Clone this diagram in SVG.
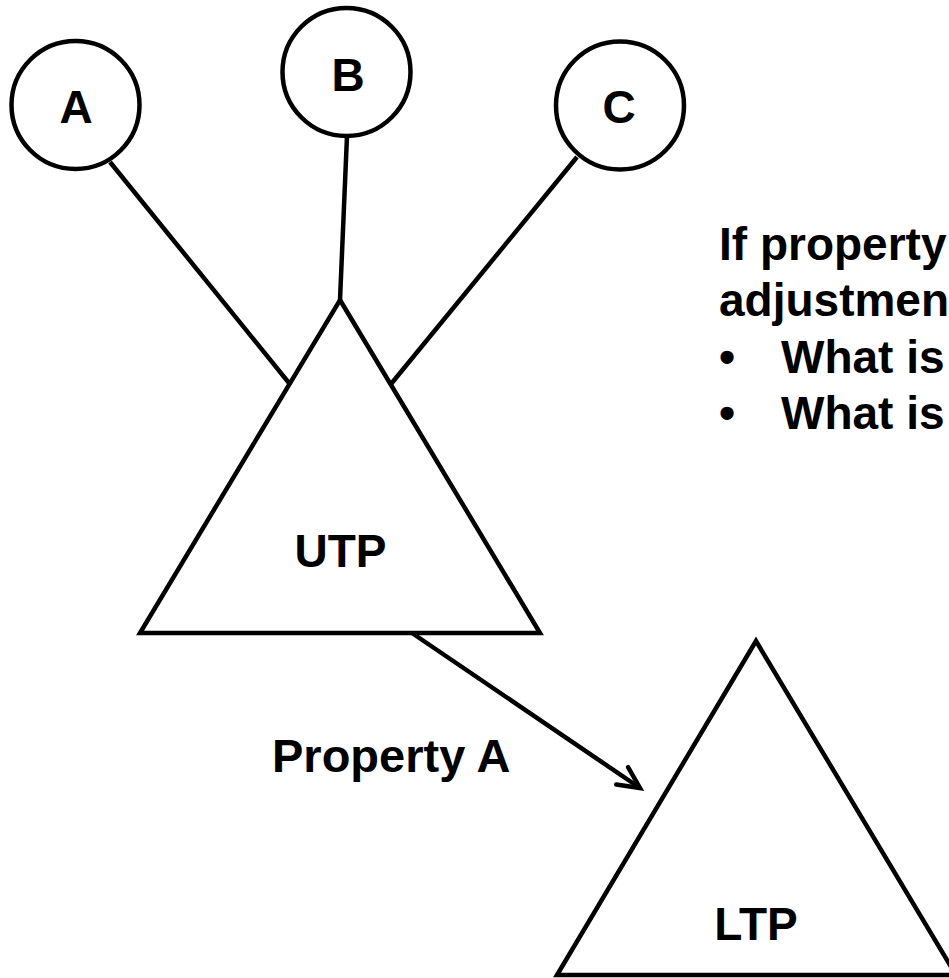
<svg xmlns="http://www.w3.org/2000/svg" width="949" height="978" viewBox="0 0 949 978">
  <style>
    .shape { fill: #ffffff; stroke: #000000; stroke-width: 4.5; stroke-linejoin: miter; }
    .link { fill: none; stroke: #000000; stroke-width: 4.5; }
    .label { font-family: "Liberation Sans", Arial, sans-serif; font-weight: bold; font-size: 46px; fill: #000000; }
    .mid { text-anchor: middle; }
  </style>
  <defs>
    <marker id="open-arrow" markerUnits="userSpaceOnUse" viewBox="-28 -16 34 32" markerWidth="34" markerHeight="32" refX="0" refY="0" orient="auto">
      <path d="M -21.6 -10.5 L 0 0 L -21.6 10.5" fill="none" stroke="#000000" stroke-width="4.5" stroke-linecap="round" stroke-linejoin="miter"/>
    </marker>
  </defs>
  <rect width="949" height="978" fill="#ffffff"/>

  <!-- connectors -->
  <g id="connectors">
    <line class="link" x1="110" y1="162" x2="289" y2="383"/>
    <line class="link" x1="347" y1="136" x2="340" y2="300"/>
    <line class="link" x1="577" y1="157" x2="391" y2="384"/>
    <line class="link" x1="412" y1="633" x2="640" y2="788" marker-end="url(#open-arrow)"/>
  </g>

  <g id="node-a">
    <circle class="shape" cx="75.5" cy="105" r="64"/>
    <text class="label mid" x="76" y="123">A</text>
  </g>
  <g id="node-b">
    <circle class="shape" cx="346.5" cy="72" r="64"/>
    <text class="label mid" x="348" y="91">B</text>
  </g>
  <g id="node-c">
    <circle class="shape" cx="620" cy="105.5" r="64"/>
    <text class="label mid" x="619" y="123">C</text>
  </g>

  <g id="node-utp">
    <polygon class="shape" points="340,300 540,633 140,633"/>
    <text class="label mid" x="340.5" y="567">UTP</text>
  </g>

  <g id="node-ltp">
    <polygon class="shape" points="756,641 956,975 557,975"/>
    <text class="label mid" x="756" y="940">LTP</text>
  </g>

  <g id="edge-label">
    <text class="label" x="272" y="772" style="font-size:47px">Property A</text>
  </g>

  <g id="note">
    <text class="label" x="719" y="260">If property</text>
    <text class="label" x="719" y="316">adjustmen</text>
    <text class="label" x="719" y="373">•</text>
    <text class="label" x="781" y="373">What is</text>
    <text class="label" x="719" y="429">•</text>
    <text class="label" x="781" y="429">What is</text>
  </g>
</svg>
